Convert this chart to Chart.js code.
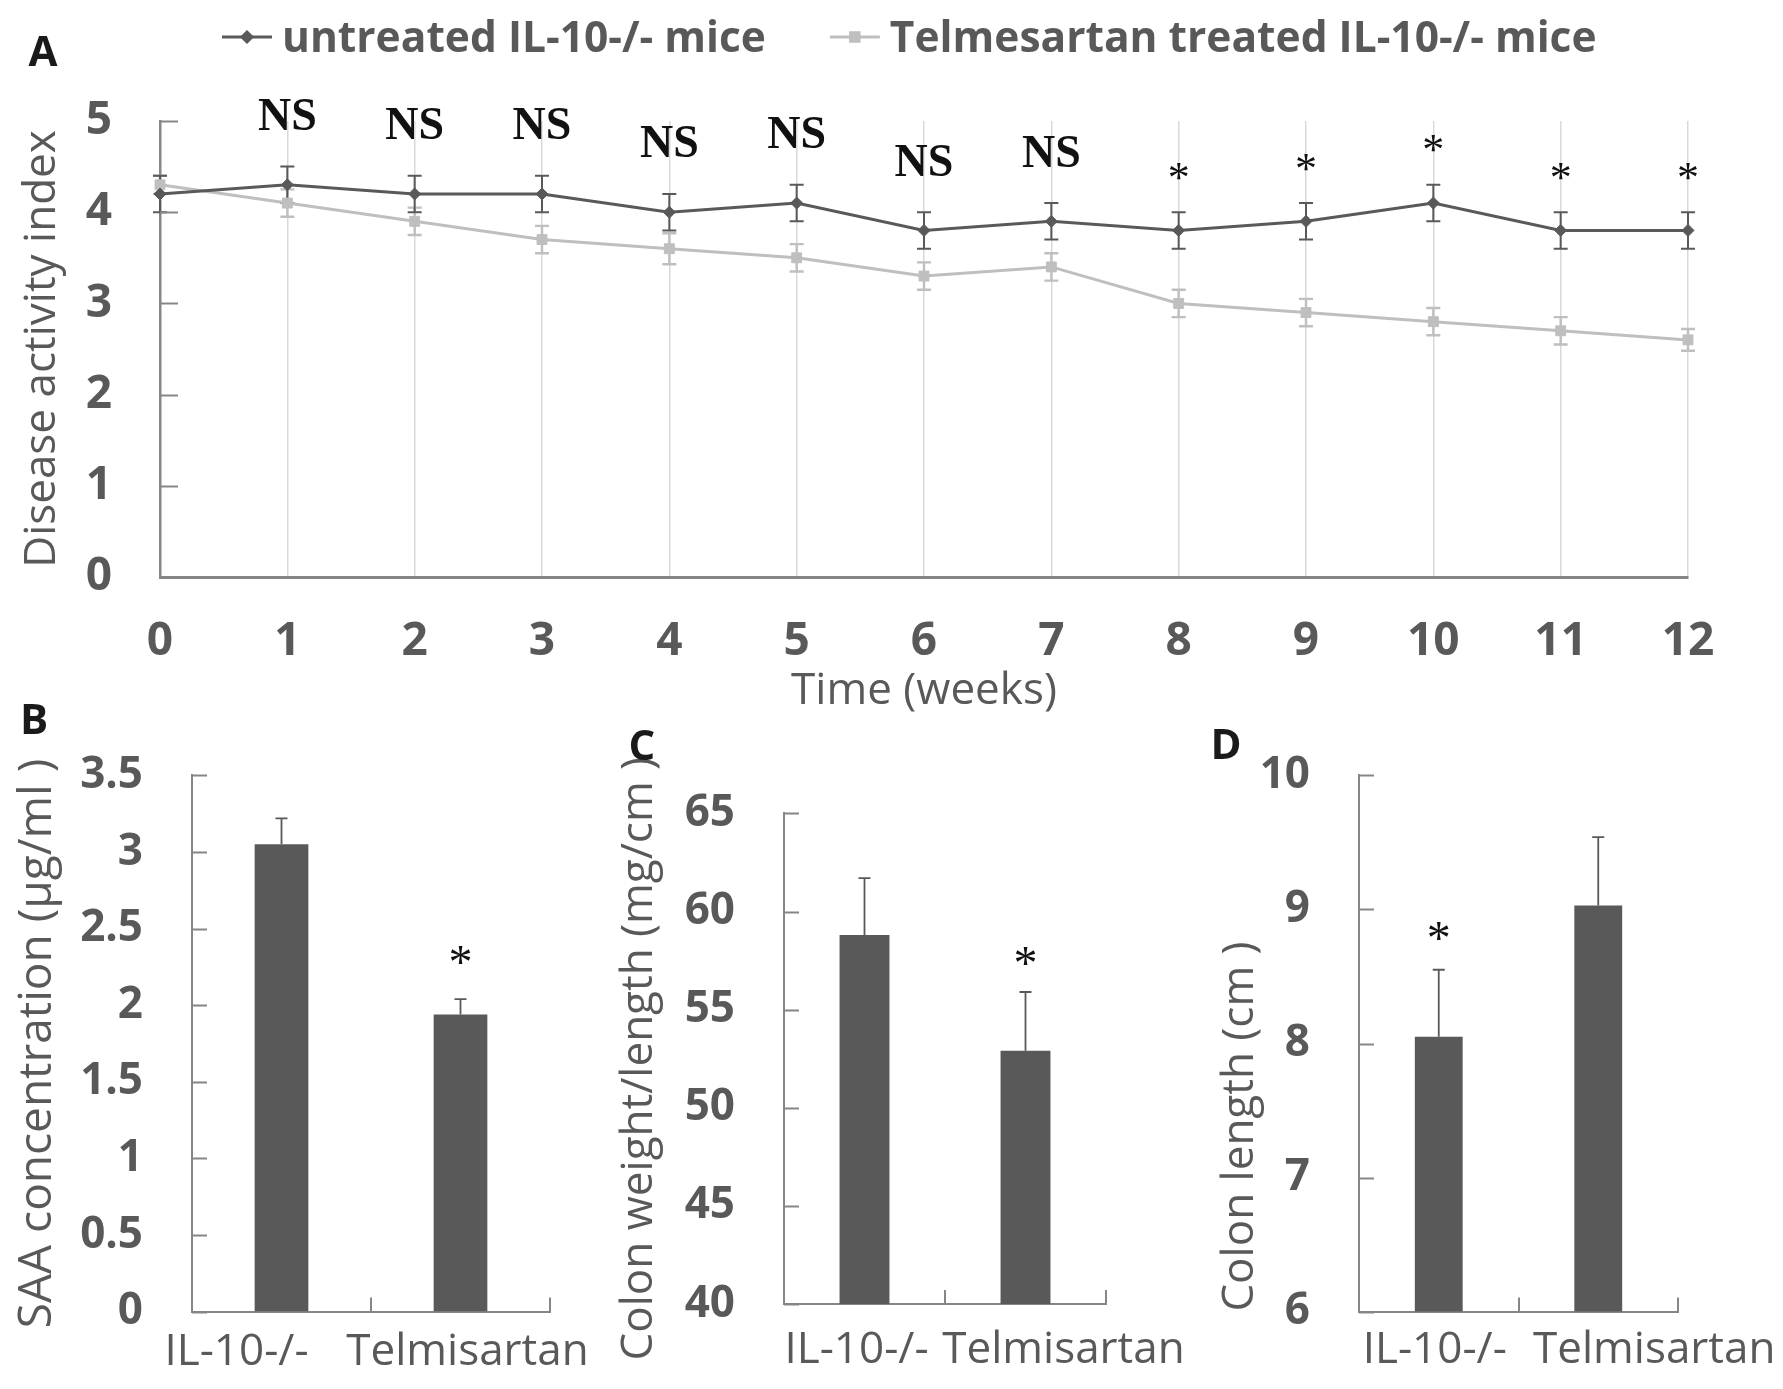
<!DOCTYPE html>
<html><head><meta charset="utf-8">
<script src="https://cdn.jsdelivr.net/npm/chart.js@4.4.1/dist/chart.umd.min.js"></script>
<style>
html,body{margin:0;padding:0;background:#fff;}
body{width:1783px;height:1389px;position:relative;overflow:hidden;}
.box{position:absolute;}
</style></head><body>
<div class="box" style="left:0;top:0;width:1783px;height:730px"><canvas id="cA"></canvas></div>
<div class="box" style="left:0;top:700px;width:600px;height:689px"><canvas id="cB"></canvas></div>
<div class="box" style="left:600px;top:700px;width:620px;height:689px"><canvas id="cC"></canvas></div>
<div class="box" style="left:1160px;top:700px;width:623px;height:689px"><canvas id="cD"></canvas></div>
<script>
// ---------- data ----------
const seriesNames = ['untreated IL-10-/- mice', 'Telmesartan treated IL-10-/- mice'];
const weeks = [0,1,2,3,4,5,6,7,8,9,10,11,12];
const untreatedDAI = [4.2,4.3,4.2,4.2,4.0,4.1,3.8,3.9,3.8,3.9,4.1,3.8,3.8];
const untreatedErr = [0.2,0.2,0.2,0.2,0.2,0.2,0.2,0.2,0.2,0.2,0.2,0.2,0.2];
const telmisartanDAI = [4.3,4.1,3.9,3.7,3.6,3.5,3.3,3.4,3.0,2.9,2.8,2.7,2.6];
const telmisartanErr = [0.1,0.15,0.15,0.15,0.17,0.15,0.15,0.15,0.15,0.15,0.15,0.15,0.12];
const weekSignificance = ['','NS','NS','NS','NS','NS','NS','NS','*','*','*','*','*'];

const groups = ['IL-10-/-', 'Telmisartan'];
const saaValues = [3.05, 1.94];
const saaErr = [0.17, 0.10];
const saaSignificance = ['', '*'];
const weightLengthValues = [58.8, 52.9];
const weightLengthErr = [2.9, 3.0];
const weightLengthSignificance = ['', '*'];
const colonLengthValues = [8.05, 9.03];
const colonLengthErr = [0.5, 0.51];
const colonLengthSignificance = ['*', ''];

// ---------- style ----------
const FONT = "'Open Sans', 'DejaVu Sans', sans-serif";
const SERIF = "'Liberation Serif', 'DejaVu Serif', serif";
const GRAY = '#595959';
const LIGHT = '#bfbfbf';
const AXIS = '#868686';

function inkText(ctx, text, x, cy) {
  const m = ctx.measureText(text);
  ctx.fillText(text, x, cy + (m.actualBoundingBoxAscent - m.actualBoundingBoxDescent) / 2);
}

const decor = {
  id: 'decor',
  beforeDatasetsDraw(chart, args, o) {
    if (o.errorsBefore) drawErrors(chart, o.errorsBefore);
  },
  afterDatasetsDraw(chart, args, o) {
    if (o.errorsAfter) drawErrors(chart, o.errorsAfter);
  },
  afterDraw(chart, args, o) {
    const ctx = chart.ctx, ca = chart.chartArea;
    const ys = chart.scales.y, xs = chart.scales.x;
    ctx.save();
    // inward y ticks
    ctx.strokeStyle = AXIS; ctx.lineWidth = 2;
    ys.ticks.forEach(t => {
      const py = Math.round(ys.getPixelForValue(t.value)) + 0.5;
      ctx.beginPath(); ctx.moveTo(ca.left, py); ctx.lineTo(ca.left + o.yTickLen, py); ctx.stroke();
    });
    // category boundary ticks (upward)
    if (o.catTickLen) {
      const n = chart.data.labels.length;
      const half = (xs.getPixelForValue(1) - xs.getPixelForValue(0)) / 2;
      for (let i = 0; i < n; i++) {
        const px = Math.round(xs.getPixelForValue(i) + half);
        ctx.beginPath(); ctx.moveTo(px, ca.bottom); ctx.lineTo(px, ca.bottom - o.catTickLen); ctx.stroke();
      }
    }
    // significance labels
    if (o.sig) {
      const s = o.sig;
      const meta = chart.getDatasetMeta(s.ds);
      const vals = chart.data.datasets[s.ds].data;
      ctx.fillStyle = '#111'; ctx.textAlign = 'center'; ctx.textBaseline = 'alphabetic';
      s.labels.forEach((lab, i) => {
        if (!lab) return;
        const v = typeof vals[i] === 'object' ? vals[i].y : vals[i];
        const top = ys.getPixelForValue(v + s.err[i]);
        const st = s.styles[lab];
        ctx.font = st.font;
        inkText(ctx, lab, meta.data[i].x, top - st.offset);
      });
    }
    // category labels
    if (o.xlabels) {
      ctx.fillStyle = GRAY; ctx.font = o.xlabels.font; ctx.textAlign = 'center'; ctx.textBaseline = 'middle';
      chart.data.labels.forEach((lab, i) => {
        ctx.fillText(lab, xs.getPixelForValue(i) + o.xlabels.shift[i], o.xlabels.y);
      });
    }
    // legend
    if (o.legend) {
      const L = o.legend;
      let x = L.x;
      ctx.font = L.font; ctx.textBaseline = 'middle'; ctx.textAlign = 'left';
      chart.data.datasets.forEach((ds, i) => {
        ctx.strokeStyle = ds.borderColor; ctx.lineWidth = 3;
        ctx.beginPath(); ctx.moveTo(x, L.y); ctx.lineTo(x + L.lineLen, L.y); ctx.stroke();
        ctx.fillStyle = ds.borderColor;
        Chart.helpers.drawPoint(ctx, {pointStyle: ds.pointStyle, radius: ds.pointRadius - 1, borderWidth: 1, rotation: 0}, x + L.lineLen / 2, L.y);
        x += L.lineLen + L.gap;
        ctx.fillStyle = GRAY;
        ctx.fillText(ds.label, x, L.y + L.textDy);
        x += ctx.measureText(ds.label).width + L.itemGap;
      });
    }
    // panel letter
    if (o.letter) {
      ctx.fillStyle = '#1a1a1a'; ctx.font = o.letter.font; ctx.textAlign = 'center'; ctx.textBaseline = 'alphabetic';
      inkText(ctx, o.letter.text, o.letter.x, o.letter.y);
    }
    ctx.restore();
  }
};

function drawErrors(chart, list) {
  const ctx = chart.ctx, ys = chart.scales.y;
  list.forEach(e => {
    const meta = chart.getDatasetMeta(e.ds);
    const vals = chart.data.datasets[e.ds].data;
    ctx.save(); ctx.strokeStyle = e.color; ctx.lineWidth = e.width;
    meta.data.forEach((el, i) => {
      const v = typeof vals[i] === 'object' ? vals[i].y : vals[i];
      const top = ys.getPixelForValue(v + e.err[i]);
      const bot = e.plusOnly ? ys.getPixelForValue(v) : ys.getPixelForValue(v - e.err[i]);
      ctx.beginPath();
      ctx.moveTo(el.x, top); ctx.lineTo(el.x, bot);
      ctx.moveTo(el.x - e.cap, top); ctx.lineTo(el.x + e.cap, top);
      if (!e.plusOnly) { ctx.moveTo(el.x - e.cap, bot); ctx.lineTo(el.x + e.cap, bot); }
      ctx.stroke();
    });
    ctx.restore();
  });
}

const plainNumber = v => String(Math.round(v * 100) / 100);

Chart.defaults.font.family = FONT;
Chart.defaults.color = GRAY;

// ---------- Panel A ----------
new Chart(document.getElementById('cA'), {
  type: 'line',
  data: {
    datasets: [
      { label: seriesNames[0], data: weeks.map((w, i) => ({x: w, y: untreatedDAI[i]})),
        borderColor: GRAY, backgroundColor: GRAY, borderWidth: 3, pointStyle: 'rectRot', pointRadius: 6,
        pointBorderWidth: 1, clip: false, tension: 0 },
      { label: seriesNames[1], data: weeks.map((w, i) => ({x: w, y: telmisartanDAI[i]})),
        borderColor: LIGHT, backgroundColor: LIGHT, borderWidth: 3, pointStyle: 'rect', pointRadius: 7,
        pointBorderWidth: 1, clip: false, tension: 0 }
    ]
  },
  options: {
    responsive: true, maintainAspectRatio: false, animation: false, devicePixelRatio: 1,
    layout: { padding: { top: 121, right: 95, left: 0, bottom: 0 } },
    plugins: {
      legend: { display: false }, tooltip: { enabled: false },
      decor: {
        yTickLen: 18,
        errorsBefore: [
          { ds: 1, err: telmisartanErr, color: LIGHT, width: 2.4, cap: 7 },
          { ds: 0, err: untreatedErr, color: GRAY, width: 2, cap: 7 }
        ],
        sig: { ds: 0, labels: weekSignificance, err: untreatedErr,
               styles: { 'NS': { font: 'bold 46px ' + SERIF, offset: 52 }, '*': { font: '44px ' + SERIF, offset: 41 } } },
        legend: { x: 222, y: 37, textDy: 3, lineLen: 50, gap: 10, itemGap: 64, font: 'bold 42.5px ' + FONT },
        letter: { text: 'A', x: 43, y: 51, font: 'bold 42px ' + FONT }
      }
    },
    scales: {
      x: { type: 'linear', min: 0, max: 12,
           ticks: { stepSize: 1, autoSkip: false, maxRotation: 0, color: GRAY, padding: 37, font: { size: 46, weight: 'bold' } },
           grid: { color: '#d9d9d9', lineWidth: 1.5, drawTicks: false },
           border: { color: AXIS, width: 3 },
           title: { display: true, text: 'Time (weeks)', color: GRAY, font: { size: 44 }, padding: { top: 0, bottom: 12 } },
           afterFit(s) { s.height = 153; } },
      y: { min: 0, max: 5,
           ticks: { stepSize: 1, autoSkip: false, color: GRAY, padding: 48, font: { size: 46, weight: 'bold' } },
           grid: { display: false, drawTicks: false },
           border: { color: AXIS, width: 2.5 },
           title: { display: true, text: 'Disease activity index', color: GRAY, font: { size: 44 }, padding: { top: 16, bottom: 0 } },
           afterFit(s) { s.width = 160; } }
    }
  },
  plugins: [decor]
});

// ---------- bar panels ----------
function barPanel(id, values, errs, sigs, cfg) {
  new Chart(document.getElementById(id), {
    type: 'bar',
    data: { labels: groups, datasets: [{ data: values, backgroundColor: GRAY, barPercentage: cfg.barPct, categoryPercentage: 1 }] },
    options: {
      responsive: true, maintainAspectRatio: false, animation: false, devicePixelRatio: 1,
      layout: { padding: { top: cfg.top, right: cfg.right, left: 0, bottom: 0 } },
      plugins: {
        legend: { display: false }, tooltip: { enabled: false },
        decor: {
          yTickLen: 15, catTickLen: 14,
          errorsAfter: [{ ds: 0, err: errs, color: GRAY, width: 1.8, cap: 6, plusOnly: true }],
          sig: { ds: 0, labels: sigs, err: errs, styles: { '*': { font: '48px ' + SERIF, offset: cfg.starOffset } } },
          xlabels: { font: '44px ' + FONT, y: cfg.labelY, shift: cfg.shift },
          letter: { text: cfg.letter, x: cfg.letterX, y: cfg.letterY, font: 'bold 42px ' + FONT }
        }
      },
      scales: {
        x: { ticks: { display: false }, grid: { display: false, drawTicks: false },
             border: { color: AXIS, width: 2 }, afterFit(s) { s.height = cfg.xh; } },
        y: { min: cfg.min, max: cfg.max,
             ticks: { stepSize: cfg.step, autoSkip: false, color: GRAY, padding: 49, callback: plainNumber,
                      font: { size: 44, weight: 'bold' } },
             grid: { display: false, drawTicks: false },
             border: { color: AXIS, width: 2 },
             title: { display: true, text: cfg.title, color: GRAY, align: cfg.titleAlign, font: { size: cfg.titleSize },
                      padding: { top: cfg.titlePad, bottom: 0 } },
             afterFit(s) { s.width = cfg.yw; } }
      }
    },
    plugins: [decor]
  });
}

barPanel('cB', saaValues, saaErr, saaSignificance, {
  barPct: 0.30, top: 66, right: 50, xh: 77.4, yw: 192, min: 0, max: 3.5, step: 0.5,
  title: 'SAA concentration (μg/ml )', titleSize: 46, titlePad: 10, titleAlign: 'center',
  starOffset: 44, labelY: 652, shift: [-45, 7], letter: 'B', letterX: 34, letterY: 19
});
barPanel('cC', weightLengthValues, weightLengthErr, weightLengthSignificance, {
  barPct: 0.31, top: 113.4, right: 114, xh: 85, yw: 184, min: 40, max: 65, step: 5,
  title: 'Colon weight/length (mg/cm )', titleSize: 44, titlePad: 13, titleAlign: 'center',
  starOffset: 36, labelY: 650, shift: [-8, 38], letter: 'C', letterX: 42, letterY: 45
});
barPanel('cD', colonLengthValues, colonLengthErr, colonLengthSignificance, {
  barPct: 0.30, top: 70.3, right: 105, xh: 77.4, yw: 199, min: 6, max: 10, step: 1,
  title: 'Colon length (cm )', titleSize: 44, titlePad: 54, titleAlign: 'start',
  starOffset: 39, labelY: 650, shift: [-4, 56], letter: 'D', letterX: 66, letterY: 44
});
</script>
</body></html>
